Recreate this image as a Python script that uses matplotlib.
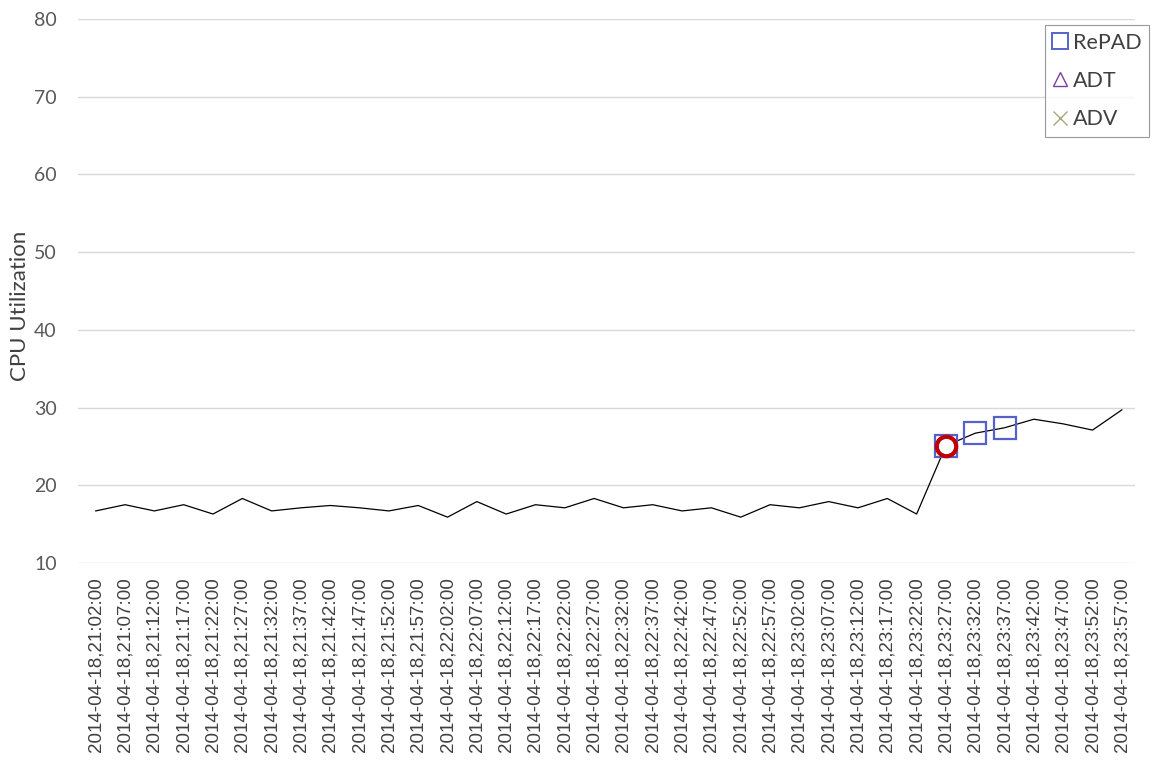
import matplotlib
matplotlib.use("Agg")
import matplotlib.pyplot as plt
from matplotlib.lines import Line2D

plt.rcParams['font.family'] = ['Lato', 'DejaVu Sans']

times = ["21:02", "21:07", "21:12", "21:17", "21:22", "21:27", "21:32", "21:37", "21:42",
         "21:47", "21:52", "21:57", "22:02", "22:07", "22:12", "22:17", "22:22", "22:27",
         "22:32", "22:37", "22:42", "22:47", "22:52", "22:57", "23:02", "23:07", "23:12",
         "23:17", "23:22", "23:27", "23:32", "23:37", "23:42", "23:47", "23:52", "23:57"]
labels = ["2014-04-18," + t + ":00" for t in times]
cpu = [16.7, 17.5, 16.7, 17.5, 16.3, 18.3, 16.7, 17.1, 17.4, 17.1, 16.7, 17.4,
       15.9, 17.9, 16.3, 17.5, 17.1, 18.3, 17.1, 17.5, 16.7, 17.1, 15.9, 17.5,
       17.1, 17.9, 17.1, 18.3, 16.3, 25.1, 26.7, 27.4, 28.5, 27.9, 27.1, 29.7]
repad_idx = [29, 30, 31]
anomaly_idx = [29]

x = list(range(len(cpu)))
fig = plt.figure(figsize=(11.75, 7.74), dpi=100)
ax = fig.add_axes([0.066, 0.2726, 0.900, 0.703])

ax.plot(x, cpu, color='black', lw=0.9, zorder=3)
ax.plot(repad_idx, [cpu[i] for i in repad_idx], ls='none', marker='s', ms=15.5,
        mfc='none', mec='#5563C9', mew=1.6, zorder=4)
ax.plot(anomaly_idx, [cpu[i] for i in anomaly_idx], ls='none', marker='o', ms=14,
        mfc='white', mec='#C00000', mew=3, zorder=5)

ax.set_xlim(-0.62, 35.45)
ax.set_ylim(10, 80)
ax.set_yticks(range(10, 81, 10))
ax.set_xticks(x)
ax.set_xticklabels(labels, rotation=90, fontsize=13.5, color='#404040',
                   family=['Liberation Sans', 'DejaVu Sans'])
ax.tick_params(axis='y', labelsize=14, colors='#595959', length=0, pad=15)
ax.tick_params(axis='x', length=0, pad=10)
for s in ax.spines.values():
    s.set_visible(False)
ax.grid(axis='y', color='#D9D9D9', lw=1)
ax.set_axisbelow(True)
ax.set_ylabel('CPU Utilization', fontsize=16, color='#404040')
ax.yaxis.set_label_coords(-0.045, 0.472)

handles = [
    Line2D([], [], ls='none', marker='s', ms=11, mfc='none', mec='#5563C9', mew=1.4),
    Line2D([], [], ls='none', marker='^', ms=10, mfc='none', mec='#7A3FA0', mew=1.0),
    Line2D([], [], ls='none', marker='x', ms=10, mec='#A8A878', mew=1.0),
]
leg = ax.legend(handles, ['RePAD', 'ADT', 'ADV'], loc='upper right',
                bbox_to_anchor=(1149 / 1175, 1 - 25 / 774), bbox_transform=fig.transFigure,
                fontsize=15.5, frameon=True,
                fancybox=False, edgecolor='#808080', handlelength=0.7,
                handletextpad=0.25, borderpad=0.35, labelspacing=0.85, borderaxespad=0)
for t in leg.get_texts():
    t.set_color('#404040')
leg.get_frame().set_linewidth(0.8)

fig.savefig('out.png', dpi=100)
